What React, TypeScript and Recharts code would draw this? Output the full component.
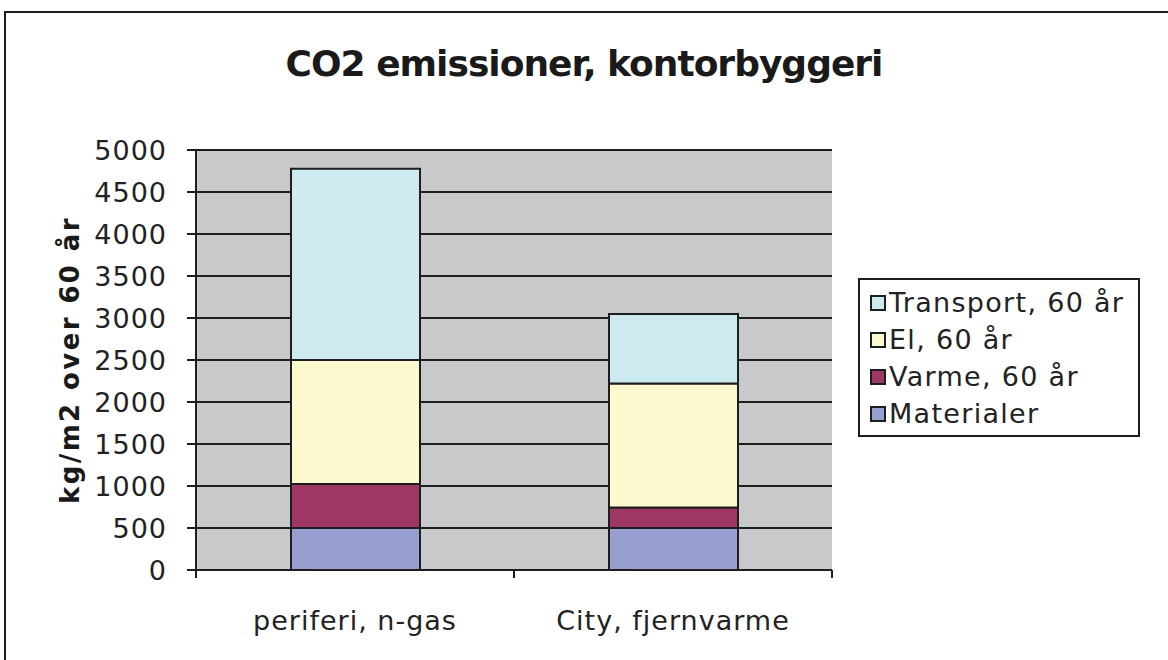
import { BarChart, Bar, XAxis, YAxis, CartesianGrid } from "recharts";

// values (kg CO2 / m2 over 60 years)
const categories = ["periferi, n-gas", "City, fjernvarme"];
const materialer = [500, 500];
const varme = [524, 245];
const el = [1476, 1476];
const transport = [2277, 828];
const yTicks = [0, 500, 1000, 1500, 2000, 2500, 3000, 3500, 4000, 4500, 5000];

const series = [
  { key: "materialer", name: "Materialer", color: "#969FD0" },
  { key: "varme", name: "Varme, 60 år", color: "#9E3763" },
  { key: "el", name: "El, 60 år", color: "#FCF9CE" },
  { key: "transport", name: "Transport, 60 år", color: "#CDEAF0" },
];

const data = categories.map((c, i) => ({
  name: c,
  materialer: materialer[i],
  varme: varme[i],
  el: el[i],
  transport: transport[i],
}));

const FONT = "'DejaVu Sans', Verdana, sans-serif";
const INK = "#1e1e1e";

// category label plus tick marks on the category boundaries (Excel style)
function CategoryTick(props: any) {
  const { x, y, payload, index, visibleTicksCount } = props;
  const half = payload && payload.offset ? payload.offset : 0;
  const isLast = index === visibleTicksCount - 1;
  return (
    <g>
      <line x1={x - half} x2={x - half} y1={y} y2={y + 8} stroke={INK} strokeWidth={2} />
      {isLast && <line x1={x + half} x2={x + half} y1={y} y2={y + 8} stroke={INK} strokeWidth={2} />}
      <text
        x={x}
        y={y + 41}
        dy="0.71em"
        textAnchor="middle"
        fontFamily={FONT}
        fontSize={27}
        letterSpacing={1}
        fill="#222"
      >
        {payload.value}
      </text>
    </g>
  );
}

function LegendBox() {
  // legend lists the stack top-down
  const items = [...series].reverse();
  return (
    <div
      style={{
        position: "absolute",
        left: 858,
        top: 278,
        border: `2px solid ${INK}`,
        background: "#fff",
        padding: "4px 10px 4px 10px",
        fontFamily: FONT,
        fontSize: 27,
        letterSpacing: 1.3,
        color: "#222",
        boxSizing: "border-box",
        width: 282,
        height: 159,
      }}
    >
      {items.map((s) => (
        <div key={s.key} style={{ display: "flex", alignItems: "center", height: 37 }}>
          <span
            style={{
              display: "inline-block",
              width: 12,
              height: 12,
              background: s.color,
              border: `2px solid ${INK}`,
              marginRight: 3,
            }}
          />
          <span>{s.name}</span>
        </div>
      ))}
    </div>
  );
}

export default function App() {
  return (
    <div style={{ position: "absolute", left: 0, top: 0, width: 1168, height: 660, background: "#fff", overflow: "hidden" }}>
      {/* outer chart frame */}
      <div style={{ position: "absolute", left: 4, top: 11, width: 1180, height: 680, border: `2px solid ${INK}` }} />
      <div
        style={{
          position: "absolute",
          left: 0,
          width: 1168,
          top: 46,
          textAlign: "center",
          fontFamily: FONT,
          fontWeight: "bold",
          fontSize: 36,
          lineHeight: "36px",
          letterSpacing: -1,
          color: "#1a1a1a",
        }}
      >
        CO2 emissioner, kontorbyggeri
      </div>
      <div style={{ position: "absolute", left: 0, top: 0 }}>
        <BarChart
          width={1168}
          height={660}
          data={data}
          margin={{ top: 150, right: 336, bottom: 29, left: 46 }}
          barSize={129}
        >
          <CartesianGrid vertical={false} stroke={INK} strokeWidth={2} fill="#C8C9CB" fillOpacity={1} />
          <XAxis
            dataKey="name"
            height={61}
            axisLine={{ stroke: INK, strokeWidth: 2 }}
            tickLine={false}
            tickSize={0}
            tickMargin={0}
            interval={0}
            tick={<CategoryTick />}
          />
          <XAxis
            xAxisId="top"
            orientation="top"
            type="number"
            domain={[0, 1]}
            height={0}
            tick={false}
            tickLine={false}
            axisLine={{ stroke: "#8c8c8c", strokeWidth: 2 }}
          />
          <YAxis
            domain={[0, 5000]}
            ticks={yTicks}
            width={150}
            interval={0}
            tickSize={9}
            tickMargin={20}
            axisLine={{ stroke: INK, strokeWidth: 2 }}
            tickLine={{ stroke: INK, strokeWidth: 2 }}
            tick={{ fontFamily: FONT, fontSize: 27, fill: "#222", letterSpacing: 1 }}
            label={{
              value: "kg/m2 over 60 år",
              angle: -90,
              position: "insideLeft",
              offset: 24,
              style: {
                textAnchor: "middle",
                fontFamily: FONT,
                fontWeight: "bold",
                fontSize: 26,
                letterSpacing: 2.4,
                fill: "#1a1a1a",
              },
            }}
          />
          <YAxis
            yAxisId="right"
            orientation="right"
            domain={[0, 1]}
            width={0}
            tick={false}
            tickLine={false}
            axisLine={{ stroke: "#8c8c8c", strokeWidth: 2 }}
          />
          {series.map((s) => (
            <Bar
              key={s.key}
              dataKey={s.key}
              name={s.name}
              stackId="a"
              fill={s.color}
              stroke={INK}
              strokeWidth={2}
              isAnimationActive={false}
            />
          ))}
        </BarChart>
      </div>
      <LegendBox />
    </div>
  );
}
